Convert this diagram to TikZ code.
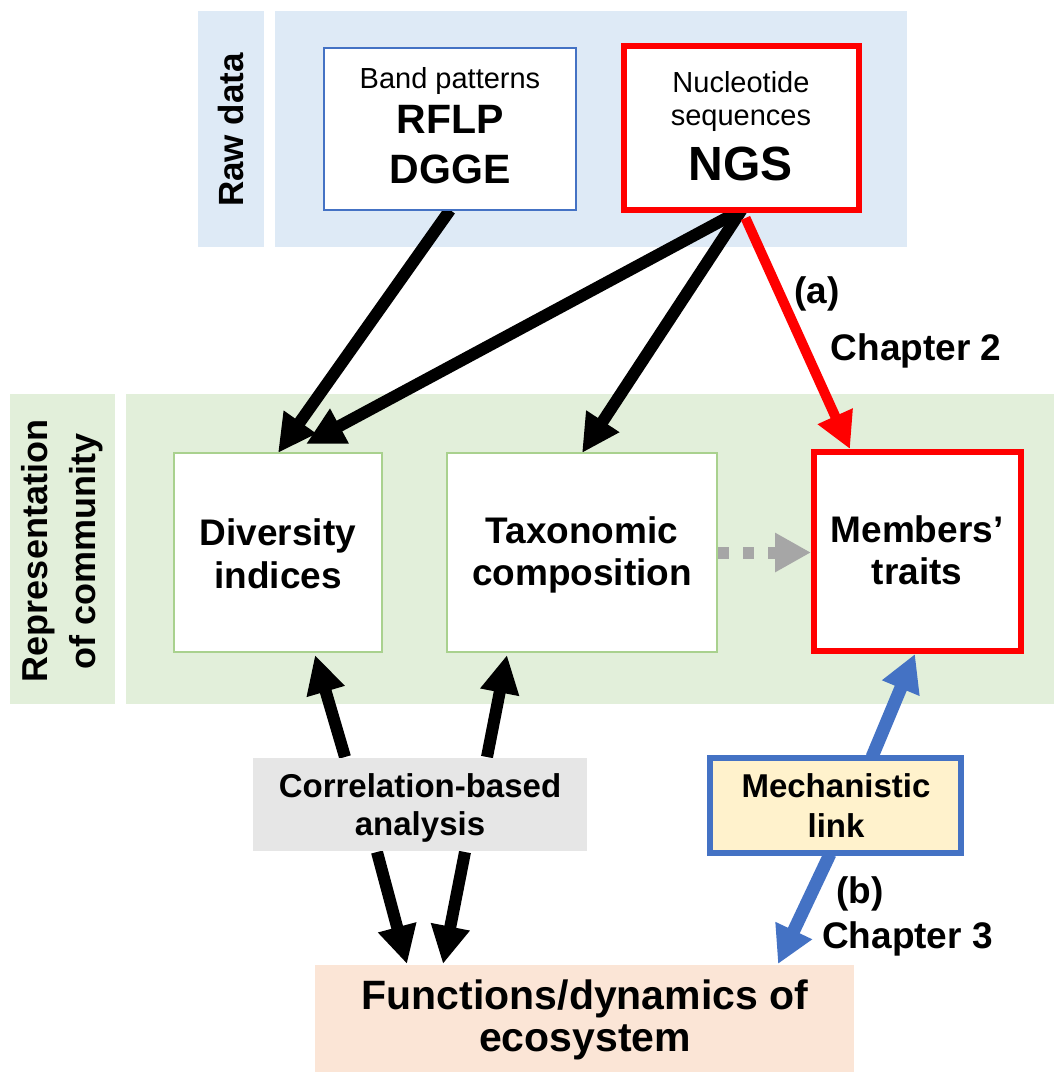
\documentclass[tikz,border=0pt]{standalone}
\usepackage{fontspec}
\setmainfont{Liberation Sans}
\usetikzlibrary{arrows.meta,calc}
\pgfdeclarelayer{bg}\pgfdeclarelayer{arr}\pgfsetlayers{bg,arr,main}
\definecolor{panelblue}{HTML}{DEEAF6}
\definecolor{panelgreen}{HTML}{E2EFDA}
\definecolor{bordergreen}{HTML}{A9D18E}
\definecolor{borderblue}{HTML}{4472C4}
\definecolor{myred}{HTML}{FF0000}
\definecolor{corrgray}{HTML}{E6E6E6}
\definecolor{mechyellow}{HTML}{FFF2CC}
\definecolor{funcpeach}{HTML}{FBE5D6}
\definecolor{arrgray}{HTML}{A6A6A6}
\newcommand\myfs[2]{\fontsize{#1pt}{#2pt}\selectfont}
\begin{document}
\begin{tikzpicture}[x=1pt,y=-1pt,
  boxbase/.style={rectangle,inner sep=0pt,outer sep=0pt,fill=white},
  txt/.style={inner sep=0pt,outer sep=0pt,anchor=base},
  blk/.style={line width=12pt,black,-{Triangle[length=38pt,width=37pt]}},
  redarr/.style={line width=10pt,myred,-{Triangle[length=36pt,width=36pt]}},
  bluearr/.style={line width=13pt,borderblue,-{Triangle[length=37pt,width=38pt]}},
  grayarr/.style={line width=12pt,arrgray,dash pattern=on 11pt off 14pt,-{Triangle[length=36pt,width=37pt]}}
]
\useasboundingbox (0,0) rectangle (1054,1072);

% background panels
\begin{pgfonlayer}{bg}
\fill[white] (0,0) rectangle (1054,1072);
\fill[panelblue] (198,11) rectangle (264,247);
\fill[panelblue] (275,11) rectangle (907,247);
\fill[panelgreen] (10,394) rectangle (115,704);
\fill[panelgreen] (126,394) rectangle (1054,704);
\end{pgfonlayer}

% boxes
\node[boxbase,draw=borderblue,line width=2pt,minimum width=252pt,minimum height=162pt] (band) at (450,129) {};
\node[boxbase,draw=myred,line width=6pt,minimum width=235pt,minimum height=164pt] (ngs) at (741.5,128) {};
\node[boxbase,draw=bordergreen,line width=2pt,minimum width=208pt,minimum height=199pt] (div) at (278,552.5) {};
\node[boxbase,draw=bordergreen,line width=2pt,minimum width=270pt,minimum height=199pt] (tax) at (582,552.5) {};
\node[boxbase,draw=myred,line width=6pt,minimum width=207pt,minimum height=199pt] (mem) at (917.5,551.5) {};
\node[boxbase,fill=corrgray,minimum width=334pt,minimum height=93pt] (corr) at (420,804.5) {};
\node[boxbase,fill=mechyellow,draw=borderblue,line width=6pt,minimum width=251pt,minimum height=95pt] (mech) at (835.5,805.5) {};
\node[boxbase,fill=funcpeach,minimum width=539pt,minimum height=107pt] (func) at (584.5,1018.5) {};

% texts
\node[rotate=90,inner sep=0pt,font=\bfseries\myfs{35}{40}] (rawlbl) at (231,130) {Raw data};
\node[rotate=90,inner sep=0pt,align=center,font=\bfseries\myfs{36}{48}] (replbl) at (62,551) {Representation\\of community};

\node[txt,font=\myfs{29}{34}] (bandt1) at (450,88) {Band patterns};
\node[txt,font=\bfseries\myfs{41}{48}] (bandt2) at (450,133) {RFLP};
\node[txt,font=\bfseries\myfs{41}{48}] (bandt3) at (450,183) {DGGE};

\node[txt,font=\myfs{29}{34}] (ngst1) at (741,92) {Nucleotide};
\node[txt,font=\myfs{29}{34}] (ngst2) at (741,125) {sequences};
\node[txt,font=\bfseries\myfs{48}{56}] (ngst3) at (741,180) {NGS};

\node[txt,font=\bfseries\myfs{37}{42}] (divt1) at (278,545.5) {Diversity};
\node[txt,font=\bfseries\myfs{37}{42}] (divt2) at (278,588) {indices};

\node[txt,font=\bfseries\myfs{37}{42}] (taxt1) at (582,543) {Taxonomic};
\node[txt,font=\bfseries\myfs{37}{42}] (taxt2) at (582,585) {composition};

\node[txt,font=\bfseries\myfs{37}{42}] (memt1) at (917,542) {Members’};
\node[txt,font=\bfseries\myfs{37}{42}] (memt2) at (917,584) {traits};

\node[txt,font=\bfseries\myfs{33}{38}] (corrt1) at (420,797) {Correlation-based};
\node[txt,font=\bfseries\myfs{33}{38}] (corrt2) at (420,835) {analysis};

\node[txt,font=\bfseries\myfs{33}{38}] (mecht1) at (836,797) {Mechanistic};
\node[txt,font=\bfseries\myfs{33}{38}] (mecht2) at (836,837) {link};

\node[txt,font=\bfseries\myfs{41}{46}] (funct1) at (585,1009) {Functions/dynamics of};
\node[txt,font=\bfseries\myfs{41}{46}] (funct2) at (585,1051) {ecosystem};

\node[txt,font=\bfseries\myfs{37}{42}] (lbla) at (817,303) {(a)};
\node[txt,font=\bfseries\myfs{37}{42}] (ch2) at (916,360) {Chapter 2};
\node[txt,font=\bfseries\myfs{37}{42}] (lblb) at (860,903) {(b)};
\node[txt,font=\bfseries\myfs{37}{42}] (ch3) at (907.5,948) {Chapter 3};

% arrows
\begin{pgfonlayer}{arr}
\draw[blk] (band.south) -- (div.north);
\draw[blk] (ngs.south) -- ($(div.north)+(28,-9)$);
\draw[blk] (ngs.south) -- (tax.north);
\draw[redarr] ($(ngs.south)+(4,8)$) -- ($(mem.north)+(-67.5,-3)$);
\draw[grayarr] ($(tax.east)+(1,0)$) -- ($(mem.west |- tax.east)+(-3,0)$);
\draw[blk] ($(corr.north)+(-75,-1)$) -- ($(div.south)+(37,3)$);
\draw[blk] ($(corr.north)+(67,-1)$) -- ($(tax.south)+(-75,3)$);
\draw[blk] ($(corr.south)+(-43,1)$) -- ($(func.north)+(-177.5,-1)$);
\draw[blk] ($(corr.south)+(45,1)$) -- ($(func.north)+(-141.5,-1)$);
\draw[bluearr] ($(mech.north)+(36.5,-1)$) -- ($(mem.south)+(-2.5,3)$);
\draw[bluearr] ($(mech.south)+(-5.5,1)$) -- ($(func.north)+(193.5,-1)$);
\end{pgfonlayer}
\end{tikzpicture}
\end{document}
